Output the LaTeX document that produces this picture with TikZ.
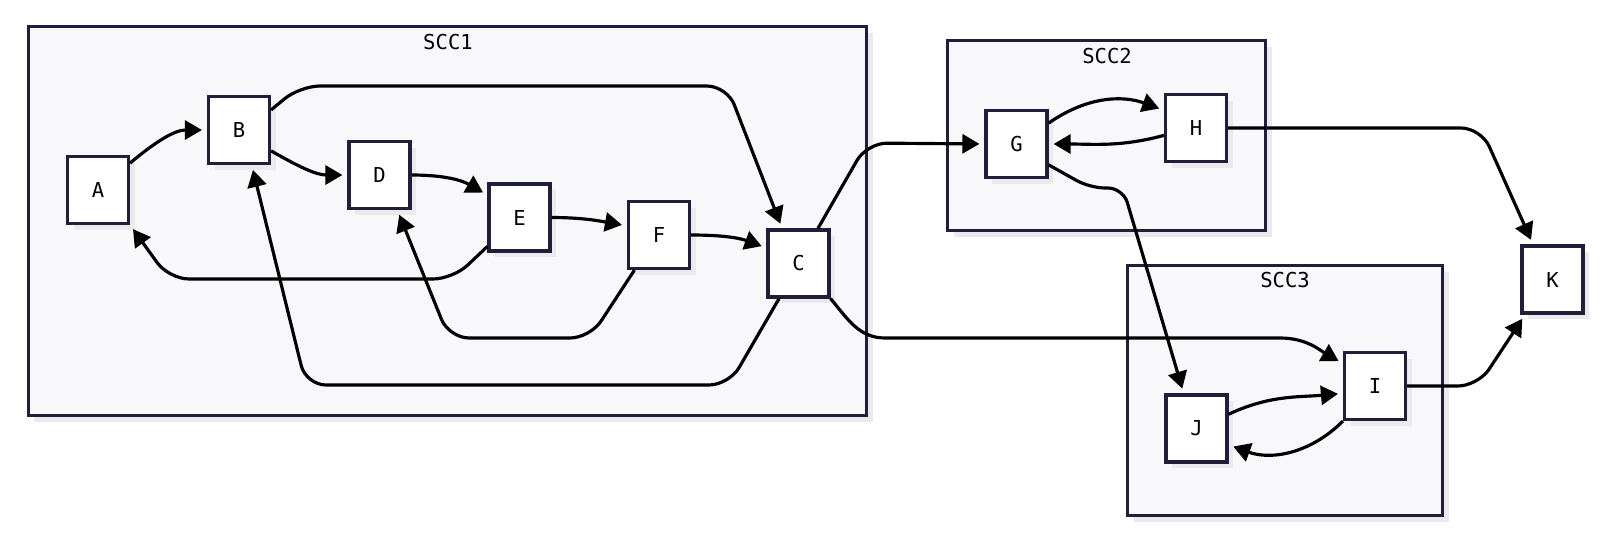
\documentclass[tikz,border=0pt]{standalone}
\usepackage{fontspec}
\setmainfont{DejaVu Sans Mono}
\usetikzlibrary{arrows.meta,shadows}
\definecolor{frameink}{HTML}{1F1F3A}
\definecolor{clusterfill}{HTML}{F8F8FA}
\definecolor{shadowgrey}{HTML}{E9E9EE}

\begin{document}
\begin{tikzpicture}[
      font=\fontsize{11.7}{14}\selectfont,
      vert/.style={draw=frameink,fill=white,line width=1.8pt,minimum width=1.22cm,minimum height=1.34cm,inner sep=0pt,
        drop shadow={shadow xshift=0.12cm,shadow yshift=-0.12cm,fill=shadowgrey,opacity=1}},
      scc/.style={draw=frameink,fill=clusterfill,line width=1.8pt,inner sep=0pt,
        drop shadow={shadow xshift=0.12cm,shadow yshift=-0.12cm,fill=shadowgrey,opacity=1}},
      edge/.style={-{Triangle[length=0.34cm,width=0.38cm]},line width=1.8pt,shorten >=0.1cm},
      elbow/.style={edge,rounded corners=0.4cm}
    ]
    \useasboundingbox (0,0) rectangle (32,-10.96);
    \node[scc,minimum width=16.76cm,minimum height=7.78cm] (scc1) at (8.95,-4.42) {};
    \node[scc,minimum width=6.36cm,minimum height=3.80cm] (scc2) at (22.13,-2.71) {};
    \node[scc,minimum width=6.30cm,minimum height=5.00cm] (scc3) at (25.70,-7.81) {};
    \node (scc1lbl) at (8.96,-0.84) {SCC1};
    \node (scc2lbl) at (22.14,-1.12) {SCC2};
    \node (scc3lbl) at (25.70,-5.60) {SCC3};
    \node[vert] (A) at (1.96,-3.80) {A};
    \node[vert] (B) at (4.78,-2.60) {B};
    \node[vert] (D) at (7.59,-3.50) {D};
    \node[vert] (E) at (10.39,-4.35) {E};
    \node[vert] (F) at (13.18,-4.70) {F};
    \node[vert] (C) at (15.97,-5.27) {C};
    \node[vert] (G) at (20.33,-2.88) {G};
    \node[vert] (H) at (23.92,-2.56) {H};
    \node[vert] (J) at (23.93,-8.57) {J};
    \node[vert] (I) at (27.50,-7.72) {I};
    \node[vert] (K) at (31.05,-5.59) {K};
    \draw[edge] (A.40) to[out=40,in=180] (B.west);
    \draw[edge] (B.-33) to[out=-30,in=180] (D.west);
    \draw[elbow] (B.32) -- (6.0,-1.72) -- (14.54,-1.72) -- (C.115);
    \draw[edge] (D.east) to[out=0,in=150] (E.145);
    \draw[edge] (E.east) to[out=0,in=170] (F.164);
    \draw[edge] (F.east) to[out=0,in=160] (C.154);
    \draw[elbow] (E.222) -- (9.06,-5.58) -- (3.38,-5.58) -- (A.south east);
    \draw[elbow] (F.235) -- (11.8,-6.76) -- (8.98,-6.76) -- (D.-63);
    \draw[elbow] (C.241) -- (14.58,-7.70) -- (6.12,-7.70) -- (B.-70);
    \draw[elbow] (C.61) -- (17.34,-2.86) -- (G.west);
    \draw[edge] (C.south east) to[out=-50,in=180] (17.7,-6.76) -- (25.6,-6.76) to[out=0,in=150] (I.145);
    \draw[edge] (G.33) to[out=35,in=160] (H.151);
    \draw[edge] (H.-167) to[out=195,in=0] (G.east);
    \draw[elbow,rounded corners=0.3cm] (G.-33) -- (21.8,-3.76) -- (22.46,-3.76) -- (J.110);
    \draw[elbow] (H.east) -- (29.62,-2.56) -- (K.119);
    \draw[edge] (J.24) to[out=25,in=185] (I.-167);
    \draw[edge] (I.south west) to[out=-135,in=-20] (J.-27);
    \draw[elbow] (I.east) -- (29.56,-7.72) -- (K.232);
  \end{tikzpicture}
\end{document}
